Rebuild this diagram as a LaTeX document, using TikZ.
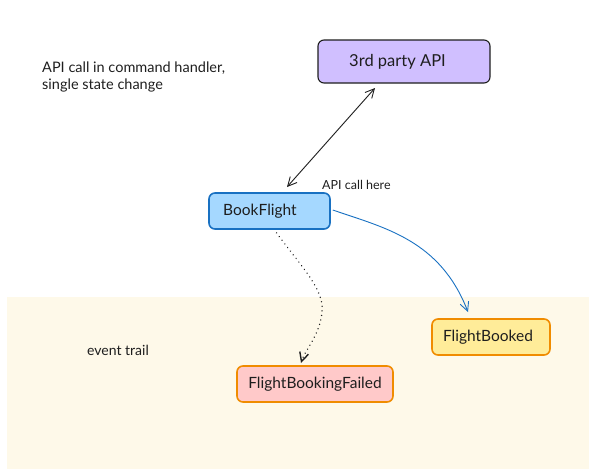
\documentclass[tikz,border=0pt]{standalone}
\usepackage{fontspec}
\setmainfont{Lato}
\usetikzlibrary{arrows.meta}
\definecolor{cream}{HTML}{FEF9E9}
\definecolor{lav}{HTML}{D0BFFF}
\definecolor{bluefill}{HTML}{A5D8FF}
\definecolor{blueline}{HTML}{1971C2}
\definecolor{yelfill}{HTML}{FFEC99}
\definecolor{orangeline}{HTML}{F08C00}
\definecolor{redfill}{HTML}{FFC9C9}
\definecolor{ink}{HTML}{1E1E1E}
\tikzset{
  box/.style={draw, rounded corners=6pt, line width=1.6pt, inner sep=0pt, font=\fontsize{15.5}{18}\selectfont, text=ink},
  lbl/.style={inner sep=0pt, text=ink, align=left},
  arr/.style={-{Straight Barb[length=9pt,width=9pt]}, line width=0.9pt}
}
\begin{document}
\begin{tikzpicture}[x=1pt,y=-1pt]
\useasboundingbox (0,0) rectangle (596,474);
\fill[cream] (7,297) rectangle (589,469);
\node[lbl, anchor=west, font=\fontsize{14.5}{17.5}\selectfont] (note) at (42,77) {API call in command handler,\\single state change};
\node[box, draw=ink, line width=1.1pt, fill=lav, minimum width=172pt, minimum height=43pt, font=\fontsize{16.5}{19}\selectfont] (api) at (404,61.5) {\hspace*{-13pt}3rd party API};
\node[box, draw=blueline, fill=bluefill, minimum width=121pt, minimum height=36pt] (book) at (269.5,211) {\hspace*{-19pt}BookFlight};
\node[lbl, anchor=west, font=\fontsize{12.5}{14}\selectfont] (here) at (322,185) {API call here};
\node[box, draw=orangeline, fill=yelfill, minimum width=118pt, minimum height=36pt] (ok) at (491,337) {\hspace*{-6pt}FlightBooked};
\node[box, draw=orangeline, fill=redfill, minimum width=156pt, minimum height=36pt] (fail) at (315,384) {FlightBookingFailed};
\node[lbl, anchor=west, font=\fontsize{14}{16}\selectfont] (trail) at (87,350) {event trail};
\coordinate (a1) at (375,88);
\coordinate (a2) at (287,187);
\draw[{Straight Barb[length=9pt,width=9pt]}-{Straight Barb[length=9pt,width=9pt]}, line width=0.9pt, ink] (a2) -- (a1);
\draw[arr, blueline] (book.east) ++(2,-1) .. controls (385,228) and (440,240) .. (468,312);
\draw[arr, ink, line width=1.4pt, dash pattern=on 0.1pt off 4.5pt, line cap=round] (book.south) ++(7,3) .. controls (300,265) and (325,290) .. (322,312) .. controls (320,335) and (305,350) .. (301,363);
\end{tikzpicture}
\end{document}
